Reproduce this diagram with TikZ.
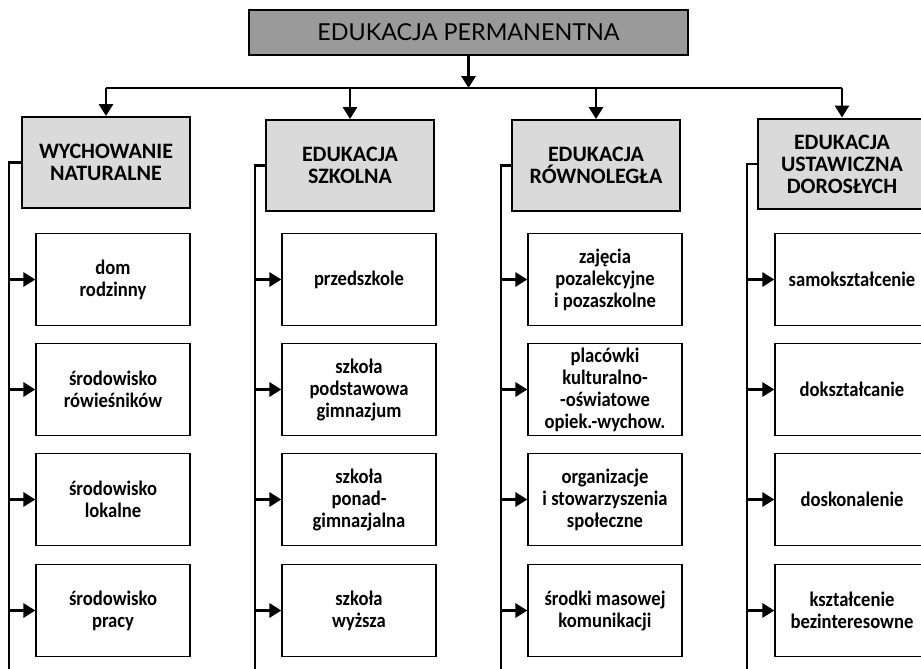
\documentclass[tikz,border=0pt]{standalone}
\usepackage{fontspec}
\setmainfont{Carlito}
\newfontfamily\titlefont{Lato}
\newfontfamily\itemfont[FakeStretch=0.9]{Carlito}
\usetikzlibrary{arrows.meta}

\definecolor{topgray}{HTML}{9A9A9A}
\definecolor{catgray}{HTML}{DADADA}

\begin{document}
\begin{tikzpicture}[x=0.75pt, y=-0.75pt,
  every node/.style={align=center},
  topbox/.style={draw, line width=1.4pt, fill=topgray, minimum width=329pt, minimum height=34pt, font=\titlefont\fontsize{17.5}{20}\selectfont},
  catbox/.style={draw, line width=1.7pt, fill=catgray, minimum width=126pt, minimum height=68pt, inner sep=2pt, font=\bfseries\fontsize{16.5}{16.5}\selectfont},
  itembox/.style={draw, line width=1.4pt, fill=white, minimum width=115pt, minimum height=69pt, inner sep=2pt, font=\itemfont\bfseries\fontsize{15.5}{16.5}\selectfont},
  conn/.style={line width=2.2pt},
  arr/.style={line width=2.2pt, -{Triangle[length=9pt,width=10.5pt]}}]
\useasboundingbox (0,0) rectangle (921,668);

% top of the tree
\node[topbox] (perm) at (468.5,32.5) {EDUKACJA PERMANENTNA};
\coordinate (bus) at (468.5,88);

% the four kinds of education
\node[catbox] (nat) at (106,162.5) {WYCHOWANIE\\NATURALNE};
\node[catbox] (szk) at (350,165.5) {EDUKACJA\\SZKOLNA};
\node[catbox] (row) at (596,165.5) {EDUKACJA\\RÓWNOLEGŁA};
\node[catbox] (dor) at (842,164) {EDUKACJA\\USTAWICZNA\\DOROSŁYCH};

% wychowanie naturalne
\node[itembox] (dom) at (113,279.5) {dom\\rodzinny};
\node[itembox] (rowies) at (113,389.5) {środowisko\\rówieśników};
\node[itembox] (lok) at (113,499.5) {środowisko\\lokalne};
\node[itembox] (praca) at (113,610.5) {środowisko\\pracy};

% edukacja szkolna
\node[itembox] (przed) at (359,279.5) {przedszkole};
\node[itembox] (podst) at (359,389.5) {szkoła\\podstawowa\\gimnazjum};
\node[itembox] (ponad) at (359,499.5) {szkoła\\ponad-\\gimnazjalna};
\node[itembox] (wyz) at (359,610.5) {szkoła\\wyższa};

% edukacja rownolegla
\node[itembox] (zaj) at (605,279.5) {zajęcia\\pozalekcyjne\\i pozaszkolne};
\node[itembox] (plac) at (605,389.5) {placówki\\kulturalno-\\-oświatowe\\opiek.-wychow.};
\node[itembox] (org) at (605,499.5) {organizacje\\i stowarzyszenia\\społeczne};
\node[itembox] (media) at (605,610.5) {środki masowej\\komunikacji};

% edukacja ustawiczna doroslych
\node[itembox] (samo) at (852,279.5) {samokształcenie};
\node[itembox] (doksz) at (852,389.5) {dokształcanie};
\node[itembox] (dosk) at (852,499.5) {doskonalenie};
\node[itembox] (bezint) at (852,610.5) {kształcenie\\bezinteresowne};

% connectors from the top box
\draw[arr] (perm) -- (bus);
\draw[conn] (nat.north |- bus) -- (dor.north |- bus);
\draw[arr] (nat.north |- bus) -- (nat);
\draw[arr] (szk.north |- bus) -- (szk);
\draw[arr] (row.north |- bus) -- (row);
\draw[arr] (dor.north |- bus) -- (dor);

% side lines down each column
\coordinate (s1) at (9,680);
\coordinate (s2) at (255,680);
\coordinate (s3) at (501,680);
\coordinate (s4) at (747,680);
\draw[conn] (nat.west) -| (s1);
\draw[conn] (szk.west) -| (s2);
\draw[conn] (row.west) -| (s3);
\draw[conn] (dor.west) -| (s4);

\draw[arr] (s1 |- dom) -- (dom);
\draw[arr] (s1 |- rowies) -- (rowies);
\draw[arr] (s1 |- lok) -- (lok);
\draw[arr] (s1 |- praca) -- (praca);
\draw[arr] (s2 |- przed) -- (przed);
\draw[arr] (s2 |- podst) -- (podst);
\draw[arr] (s2 |- ponad) -- (ponad);
\draw[arr] (s2 |- wyz) -- (wyz);
\draw[arr] (s3 |- zaj) -- (zaj);
\draw[arr] (s3 |- plac) -- (plac);
\draw[arr] (s3 |- org) -- (org);
\draw[arr] (s3 |- media) -- (media);
\draw[arr] (s4 |- samo) -- (samo);
\draw[arr] (s4 |- doksz) -- (doksz);
\draw[arr] (s4 |- dosk) -- (dosk);
\draw[arr] (s4 |- bezint) -- (bezint);
\end{tikzpicture}
\end{document}
